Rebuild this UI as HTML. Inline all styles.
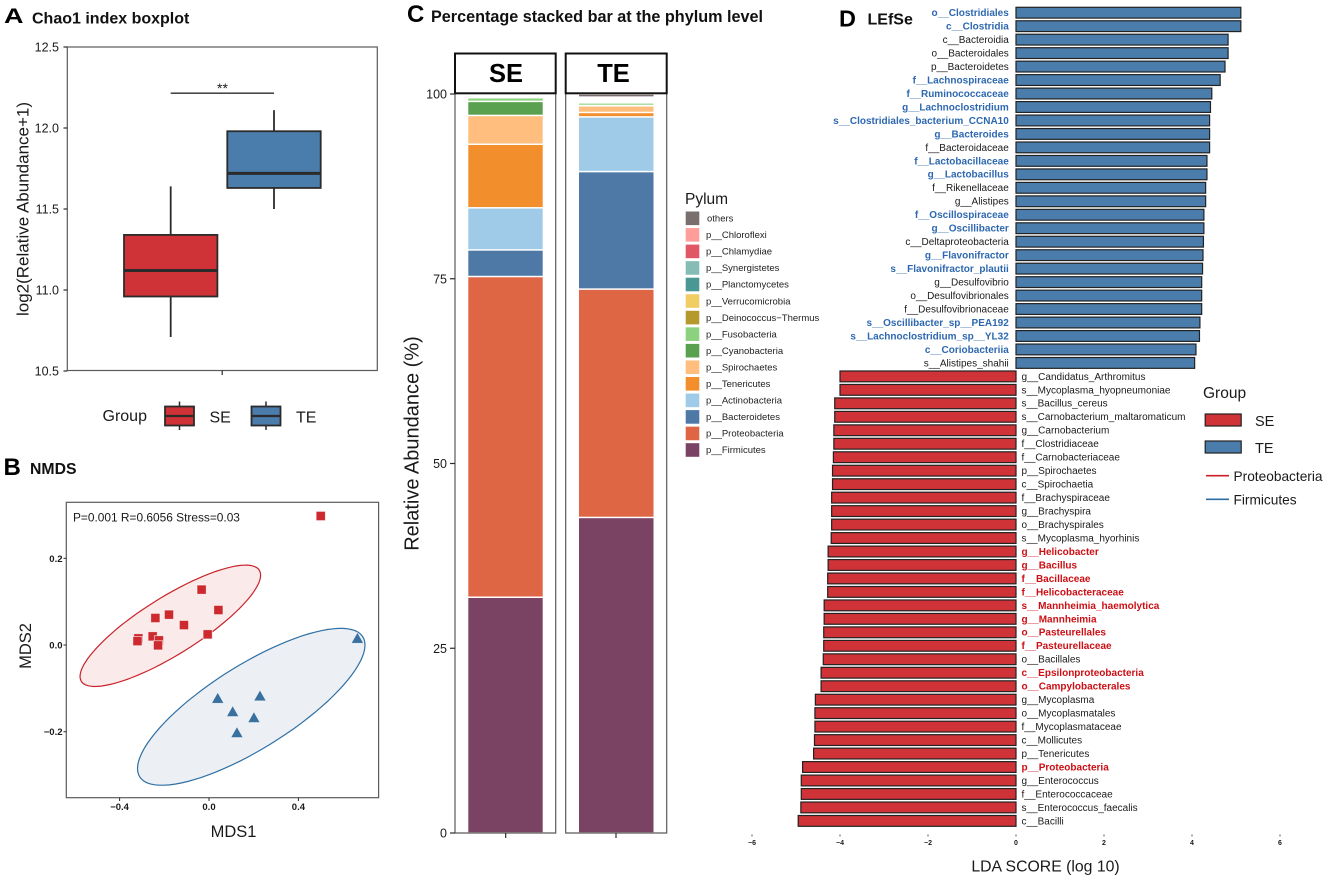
<!DOCTYPE html>
<html>
<head>
<meta charset="utf-8">
<title>Microbiome composite figure</title>
<style>
html,body{margin:0;padding:0;background:#fff}
svg{display:block;font-family:"Liberation Sans",sans-serif}
</style>
</head>
<body>
<svg id="fig" xmlns="http://www.w3.org/2000/svg" width="1325" height="879" viewBox="0 0 1325 879" fill="#1a1a1a">
  <rect width="1325" height="879" fill="#fff"/>
  <g>
    <text x="4" y="23" font-size="21.5" font-weight="700" fill="#000" textLength="19.5" lengthAdjust="spacingAndGlyphs">A</text>
    <text x="32" y="23.5" font-size="16" font-weight="700" fill="#111">Chao1 index boxplot</text>
    <text x="3.5" y="475" font-size="24" font-weight="700" fill="#000">B</text>
    <text x="30" y="474" font-size="15.8" font-weight="700" fill="#111">NMDS</text>
    <text x="407" y="22" font-size="24" font-weight="700" fill="#000">C</text>
    <text x="431" y="22" font-size="16.2" font-weight="700" fill="#111">Percentage stacked bar at the phylum level</text>
    <text x="839" y="26.7" font-size="23.5" font-weight="700" fill="#000">D</text>
    <text x="867.5" y="24.5" font-size="16" font-weight="700" fill="#111">LEfSe</text>
  </g>
  <g id="panelA"></g>
  <g id="panelB"></g>
  <g id="panelC"></g>
  <g id="panelD"></g>
</svg>
<script>
/* ---------- Panel A data ---------- */
const boxGroups = ['SE', 'TE'];
const boxMin = [10.71, 11.50];
const boxQ1 = [10.96, 11.63];
const boxMedian = [11.12, 11.72];
const boxQ3 = [11.34, 11.98];
const boxMax = [11.64, 12.11];
const boxTicks = [10.5, 11.0, 11.5, 12.0, 12.5];
const boxSignificance = 12.215;

/* ---------- Panel B data ---------- */
const nmdsSeX = [0.50, -0.033, 0.042, -0.179, -0.24, -0.112, -0.006, -0.252, -0.316, -0.32, -0.224, -0.228];
const nmdsSeY = [0.2976, 0.1277, 0.0807, 0.07, 0.0623, 0.046, 0.0246, 0.02, 0.0154, 0.009, 0.0108, -0.0008];
const nmdsTeX = [0.664, 0.039, 0.228, 0.106, 0.201, 0.125];
const nmdsTeY = [0.0154, -0.123, -0.1176, -0.1538, -0.1676, -0.2022];
const ellipseCenterX = [-0.173, 0.189];
const ellipseCenterY = [0.0443, -0.1426];
const ellipseRadiusX = [0.404, 0.509];
const ellipseRadiusY = [0.140, 0.181];
const ellipseCorrelation = [0.835, 0.787];
const nmdsTicksX = [-0.4, 0.0, 0.4];
const nmdsTicksY = [-0.2, 0.0, 0.2];

/* ---------- Panel C data (bottom of stack to top) ---------- */
const phyla = ['p__Firmicutes', 'p__Proteobacteria', 'p__Bacteroidetes', 'p__Actinobacteria', 'p__Tenericutes', 'p__Spirochaetes', 'p__Cyanobacteria', 'p__Fusobacteria', 'p__Deinococcus\u2212Thermus', 'p__Verrucomicrobia', 'p__Planctomycetes', 'p__Synergistetes', 'p__Chlamydiae', 'p__Chloroflexi', 'others'];
const stackSE = [31.9, 43.4, 3.6, 5.7, 8.6, 3.9, 1.9, 0.5, 0.08, 0.08, 0.08, 0.08, 0.08, 0.08, 0.02];
const stackTE = [42.7, 30.9, 15.9, 7.4, 0.6, 0.9, 0.05, 0.35, 0.13, 0.13, 0.13, 0.13, 0.13, 0.13, 0.42];
const stackTicks = [0, 25, 50, 75, 100];

/* ---------- Panel D data ---------- */
const taxaTE = ['o__Clostridiales', 'c__Clostridia', 'c__Bacteroidia', 'o__Bacteroidales', 'p__Bacteroidetes', 'f__Lachnospiraceae', 'f__Ruminococcaceae', 'g__Lachnoclostridium', 's__Clostridiales_bacterium_CCNA10', 'g__Bacteroides', 'f__Bacteroidaceae', 'f__Lactobacillaceae', 'g__Lactobacillus', 'f__Rikenellaceae', 'g__Alistipes', 'f__Oscillospiraceae', 'g__Oscillibacter', 'c__Deltaproteobacteria', 'g__Flavonifractor', 's__Flavonifractor_plautii', 'g__Desulfovibrio', 'o__Desulfovibrionales', 'f__Desulfovibrionaceae', 's__Oscillibacter_sp__PEA192', 's__Lachnoclostridium_sp__YL32', 'c__Coriobacteriia', 's__Alistipes_shahii'];
const scoresTE = [5.11, 5.11, 4.82, 4.82, 4.75, 4.64, 4.45, 4.42, 4.40, 4.40, 4.40, 4.34, 4.34, 4.31, 4.31, 4.27, 4.27, 4.26, 4.25, 4.24, 4.22, 4.22, 4.22, 4.18, 4.17, 4.09, 4.06];
const taxaSE = ['g__Candidatus_Arthromitus', 's__Mycoplasma_hyopneumoniae', 's__Bacillus_cereus', 's__Carnobacterium_maltaromaticum', 'g__Carnobacterium', 'f__Clostridiaceae', 'f__Carnobacteriaceae', 'p__Spirochaetes', 'c__Spirochaetia', 'f__Brachyspiraceae', 'g__Brachyspira', 'o__Brachyspirales', 's__Mycoplasma_hyorhinis', 'g__Helicobacter', 'g__Bacillus', 'f__Bacillaceae', 'f__Helicobacteraceae', 's__Mannheimia_haemolytica', 'g__Mannheimia', 'o__Pasteurellales', 'f__Pasteurellaceae', 'o__Bacillales', 'c__Epsilonproteobacteria', 'o__Campylobacterales', 'g__Mycoplasma', 'o__Mycoplasmatales', 'f__Mycoplasmataceae', 'c__Mollicutes', 'p__Tenericutes', 'p__Proteobacteria', 'g__Enterococcus', 'f__Enterococcaceae', 's__Enterococcus_faecalis', 'c__Bacilli'];
const scoresSE = [4.0, 4.0, 4.12, 4.12, 4.14, 4.14, 4.15, 4.17, 4.17, 4.19, 4.19, 4.19, 4.2, 4.27, 4.27, 4.28, 4.28, 4.36, 4.36, 4.37, 4.37, 4.38, 4.43, 4.43, 4.56, 4.57, 4.57, 4.58, 4.6, 4.85, 4.88, 4.88, 4.89, 4.95];
const firmicutesTaxa = ['o__Clostridiales', 'c__Clostridia', 'f__Lachnospiraceae', 'f__Ruminococcaceae', 'g__Lachnoclostridium', 's__Clostridiales_bacterium_CCNA10', 'g__Bacteroides', 'f__Lactobacillaceae', 'g__Lactobacillus', 'f__Oscillospiraceae', 'g__Oscillibacter', 'g__Flavonifractor', 's__Flavonifractor_plautii', 's__Oscillibacter_sp__PEA192', 's__Lachnoclostridium_sp__YL32', 'c__Coriobacteriia'];
const proteobacteriaTaxa = ['g__Helicobacter', 'g__Bacillus', 'f__Bacillaceae', 'f__Helicobacteraceae', 's__Mannheimia_haemolytica', 'g__Mannheimia', 'o__Pasteurellales', 'f__Pasteurellaceae', 'c__Epsilonproteobacteria', 'o__Campylobacterales', 'p__Proteobacteria'];
const ldaTicks = [-6, -4, -2, 0, 2, 4, 6];

const NS = 'http://www.w3.org/2000/svg';
const RED = '#cf3237', BLUE = '#4a7dab', DARK = '#2b2b2b', FRAME = '#5a5a5a';
const phylumColors = ['#7a4263', '#de6644', '#4e79a7', '#a0cbe8', '#f28e2b', '#ffbe7d', '#59a14f', '#8cd17d', '#b6992d', '#f1ce63', '#499894', '#86bcb6', '#e15765', '#ff9d9a', '#79706e'];

function mk(parent, tag, attrs, text) {
  const el = document.createElementNS(NS, tag);
  for (const k in attrs) el.setAttribute(k, attrs[k]);
  if (text !== undefined) el.textContent = text;
  parent.appendChild(el);
  return el;
}
function fmt(v, d) { return v.toFixed(d).replace('-', '\u2212'); }

/* ================ Panel A ================ */
(function () {
  const p = document.getElementById('panelA');
  const y = v => 371 - (v - 10.5) * 162;
  const x = i => 170.7 + i * 103.3;
  const halfW = 46.7;
  let e;
  e = mk(p, 'rect', {x: 67.3, y: 47, width: 310, height: 323.5, fill: '#fff', stroke: FRAME, 'stroke-width': 1.2});
  
  
  boxTicks.forEach(t => {
    const tick = mk(p, 'line', {x1: 63.5, x2: 67.3, y1: y(t), y2: y(t), stroke: DARK, 'stroke-width': 1.2});
    
    
    const lab = mk(p, 'text', {x: 59, y: y(t) + 4.5, 'text-anchor': 'end', 'font-size': 12.5}, fmt(t, 1));
    
    
  });
  e = mk(p, 'line', {x1: 222.2, x2: 222.2, y1: 370.5, y2: 375, stroke: DARK, 'stroke-width': 1.2});
  
  
  e = mk(p, 'text', {x: 0, y: 0, transform: 'translate(28.5,209) rotate(-90)', 'text-anchor': 'middle', 'font-size': 17}, 'log2(Relative Abundance+1)');
  
  
  boxGroups.forEach((g, i) => {
    const wh = mk(p, 'line', {x1: x(i), x2: x(i), y1: y(boxMax[i]), y2: y(boxMin[i]), stroke: DARK, 'stroke-width': 1.8});
    
    
    const bx = mk(p, 'rect', {x: x(i) - halfW, y: y(boxQ3[i]), width: halfW * 2, height: y(boxQ1[i]) - y(boxQ3[i]), fill: i ? BLUE : RED, stroke: DARK, 'stroke-width': 1.8});
    
    
    const md = mk(p, 'line', {x1: x(i) - halfW, x2: x(i) + halfW, y1: y(boxMedian[i]), y2: y(boxMedian[i]), stroke: DARK, 'stroke-width': 3});
    
    
  });
  e = mk(p, 'line', {x1: x(0), x2: x(1), y1: y(boxSignificance), y2: y(boxSignificance), stroke: DARK, 'stroke-width': 1.3});
  
  
  e = mk(p, 'text', {x: 222.5, y: 93, 'text-anchor': 'middle', 'font-size': 14}, '**');
  
  
  e = mk(p, 'text', {x: 102.5, y: 421, 'font-size': 16}, 'Group');
  
  
  boxGroups.forEach((g, i) => {
    const kx = 165 + i * 86.5;
    const w = mk(p, 'line', {x1: kx + 14.5, x2: kx + 14.5, y1: 401.5, y2: 430, stroke: DARK, 'stroke-width': 1.5});
    
    
    const r = mk(p, 'rect', {x: kx, y: 406.5, width: 29, height: 19, fill: i ? BLUE : RED, stroke: DARK, 'stroke-width': 1.8});
    
    
    const m = mk(p, 'line', {x1: kx, x2: kx + 29, y1: 416, y2: 416, stroke: DARK, 'stroke-width': 2.2});
    
    
    const t = mk(p, 'text', {x: kx + 44.5, y: 422.5, 'font-size': 16}, g);
    
    
  });
})();

/* ================ Panel B ================ */
(function () {
  const p = document.getElementById('panelB');
  const x = v => 209 + v * 223.5;
  const y = v => 645 - v * 433.5;
  let e;
  e = mk(p, 'rect', {x: 66.3, y: 502.3, width: 312.3, height: 295.4, fill: '#fff', stroke: FRAME, 'stroke-width': 1.2});
  
  
  nmdsTicksX.forEach(t => {
    const tick = mk(p, 'line', {x1: x(t), x2: x(t), y1: 797.7, y2: 801, stroke: DARK, 'stroke-width': 1});
    
    
    const lab = mk(p, 'text', {x: x(t), y: 810, 'text-anchor': 'middle', 'font-size': 9.5, 'font-weight': 700}, fmt(t, 1));
    
    
  });
  nmdsTicksY.forEach(t => {
    const tick = mk(p, 'line', {x1: 63.5, x2: 66.3, y1: y(t), y2: y(t), stroke: DARK, 'stroke-width': 1});
    
    
    const lab = mk(p, 'text', {x: 62.5, y: y(t) + 3.5, 'text-anchor': 'end', 'font-size': 9.5, 'font-weight': 700}, fmt(t, 1));
    
    
  });
  e = mk(p, 'text', {x: 233.5, y: 837, 'text-anchor': 'middle', 'font-size': 16.5}, 'MDS1');
  
  
  e = mk(p, 'text', {x: 0, y: 0, transform: 'translate(31,646) rotate(-90)', 'text-anchor': 'middle', 'font-size': 16.5}, 'MDS2');
  
  
  e = mk(p, 'text', {x: 73, y: 521.5, 'font-size': 11.9}, 'P=0.001 R=0.6056 Stress=0.03');
  
  
  ['se', 'te'].forEach((g, k) => {
    const phi = Math.acos(ellipseCorrelation[k]);
    const pts = [];
    for (let a = 0; a < 360; a += 4) {
      const t = a * Math.PI / 180;
      const dx = ellipseCenterX[k] + ellipseRadiusX[k] * Math.cos(t);
      const dy = ellipseCenterY[k] + ellipseRadiusY[k] * Math.cos(t - phi);
      pts.push(x(dx).toFixed(1) + ',' + y(dy).toFixed(1));
    }
    const el = mk(p, 'polygon', {points: pts.join(' '), fill: k ? '#ecf0f5' : '#fbeaea', stroke: k ? '#2f6fa3' : '#c9242b', 'stroke-width': 1.2});
    
    
  });
  nmdsSeX.forEach((v, i) => {
    const s = mk(p, 'rect', {x: x(v) - 4.6, y: y(nmdsSeY[i]) - 4.6, width: 9.2, height: 9.2, fill: '#cd2a2f', stroke: '#fff', 'stroke-opacity': 0.7, 'stroke-width': 0.8});
    
    
  });
  nmdsTeX.forEach((v, i) => {
    const cx = x(v), cy = y(nmdsTeY[i]);
    const t = mk(p, 'polygon', {points: (cx - 6) + ',' + (cy + 4.8) + ' ' + (cx + 6) + ',' + (cy + 4.8) + ' ' + cx + ',' + (cy - 5.8), fill: '#38709f', stroke: '#fff', 'stroke-opacity': 0.6, 'stroke-width': 0.6});
    
    
  });
})();

/* ================ Panel C ================ */
(function () {
  const p = document.getElementById('panelC');
  const y = v => 833 - v * 7.39;
  const facets = [
    {name: 'SE', values: stackSE, left: 455, right: 555.7, barL: 468.3, barR: 542.7, tick: 505.7, label: 506},
    {name: 'TE', values: stackTE, left: 565.7, right: 666.7, barL: 579, barR: 653.5, tick: 616, label: 613.5}
  ];
  let e;
  facets.forEach(f => {
    const id = f.name.toLowerCase();
    const frame = mk(p, 'path', {d: 'M' + f.left + ' 93V833H' + f.right + 'V93', fill: 'none', stroke: FRAME, 'stroke-width': 1.2});
    
    
    let cum = 0;
    f.values.forEach((val, i) => {
      const top = y(cum + val), bottom = y(cum);
      cum += val;
      const h = bottom - top - 1.5;
      if (h <= 0) return;
      const r = mk(p, 'rect', {x: f.barL, y: top + 0.75, width: f.barR - f.barL, height: h, fill: phylumColors[i]});
      
      
    });
    const tick = mk(p, 'line', {x1: f.tick, x2: f.tick, y1: 833, y2: 838, stroke: DARK, 'stroke-width': 1.2});
    
    
    const strip = mk(p, 'rect', {x: f.left, y: 53.5, width: f.right - f.left, height: 39.8, fill: '#fff', stroke: '#111', 'stroke-width': 2});
    
    
    const st = mk(p, 'text', {x: f.label, y: 82, 'text-anchor': 'middle', 'font-size': 25.5, 'font-weight': 700, fill: '#000'}, f.name);
    
    
  });
  stackTicks.forEach(t => {
    const tick = mk(p, 'line', {x1: 450, x2: 455, y1: y(t), y2: y(t), stroke: DARK, 'stroke-width': 1.2});
    
    
    const lab = mk(p, 'text', {x: 447, y: y(t) + 4.5, 'text-anchor': 'end', 'font-size': 12.5}, String(t));
    
    
  });
  e = mk(p, 'text', {x: 0, y: 0, transform: 'translate(418.5,443.5) rotate(-90)', 'text-anchor': 'middle', 'font-size': 20}, 'Relative Abundance (%)');
  
  
  e = mk(p, 'text', {x: 685, y: 204, 'font-size': 15.5}, 'Pylum');
  
  
  phyla.slice().reverse().forEach((name, i) => {
    const cy = 218.3 + i * 16.55;
    const key = mk(p, 'rect', {x: 685.7, y: cy - 6.8, width: 13.6, height: 13.6, fill: phylumColors[phyla.length - 1 - i]});
    
    
    const t = mk(p, 'text', {x: name === 'others' ? 707 : 706, y: cy + 3.2, 'font-size': 9.5, fill: '#222'}, name);
    
    
  });
})();

/* ================ Panel D ================ */
(function () {
  const p = document.getElementById('panelD');
  const x = v => 1016 + v * 44;
  const y = i => 12.7 + i * 13.47;
  const barH = 10.8;
  let e;
  function style(name) {
    if (firmicutesTaxa.includes(name)) return {fill: '#2e68b0', 'font-weight': 700};
    if (proteobacteriaTaxa.includes(name)) return {fill: '#cc0f14', 'font-weight': 700};
    return {fill: '#1a1a1a', 'font-weight': 400};
  }
  taxaTE.forEach((name, i) => {
    const r = mk(p, 'rect', {x: x(0), y: y(i) - barH / 2, width: x(scoresTE[i]) - x(0), height: barH, fill: BLUE, stroke: '#222', 'stroke-width': 1.2});
    
    
    const s = style(name);
    const t = mk(p, 'text', {x: 1008.8, y: y(i) + 3.4, 'text-anchor': 'end', 'font-size': 10, fill: s.fill, 'font-weight': s['font-weight']}, name);
    
    
  });
  taxaSE.forEach((name, k) => {
    const i = k + taxaTE.length;
    const r = mk(p, 'rect', {x: x(-scoresSE[k]), y: y(i) - barH / 2, width: x(0) - x(-scoresSE[k]), height: barH, fill: RED, stroke: '#222', 'stroke-width': 1.2});
    
    
    const s = style(name);
    const t = mk(p, 'text', {x: 1021.5, y: y(i) + 3.4, 'font-size': 10, fill: s.fill, 'font-weight': s['font-weight']}, name);
    
    
  });
  ldaTicks.forEach(t => {
    const tick = mk(p, 'line', {x1: x(t), x2: x(t), y1: 834.5, y2: 836.5, stroke: '#333', 'stroke-width': 0.8});
    
    
    const lab = mk(p, 'text', {x: x(t), y: 845, 'text-anchor': 'middle', 'font-size': 7, 'font-weight': 700}, fmt(t, 0));
    
    
  });
  e = mk(p, 'text', {x: 1045.5, y: 871.5, 'text-anchor': 'middle', 'font-size': 15.8}, 'LDA SCORE (log 10)');
  
  
  e = mk(p, 'text', {x: 1203, y: 398, 'font-size': 15.5}, 'Group');
  
  
  boxGroups.forEach((g, i) => {
    const ky = 414 + i * 27;
    const r = mk(p, 'rect', {x: 1205.2, y: ky, width: 36, height: 12, fill: i ? BLUE : RED, stroke: '#222', 'stroke-width': 1.2});
    
    
    const t = mk(p, 'text', {x: 1255, y: ky + 12, 'font-size': 14.5}, g);
    
    
  });
  e = mk(p, 'line', {x1: 1206, x2: 1229, y1: 475.7, y2: 475.7, stroke: '#cc1f26', 'stroke-width': 1.6});
  
  
  e = mk(p, 'text', {x: 1233.5, y: 481, 'font-size': 13.7}, 'Proteobacteria');
  
  
  e = mk(p, 'line', {x1: 1206, x2: 1229, y1: 499.3, y2: 499.3, stroke: '#2e6da4', 'stroke-width': 1.6});
  
  
  e = mk(p, 'text', {x: 1233.5, y: 504.5, 'font-size': 13.7}, 'Firmicutes');
  
  
})();
</script>
</body>
</html>
